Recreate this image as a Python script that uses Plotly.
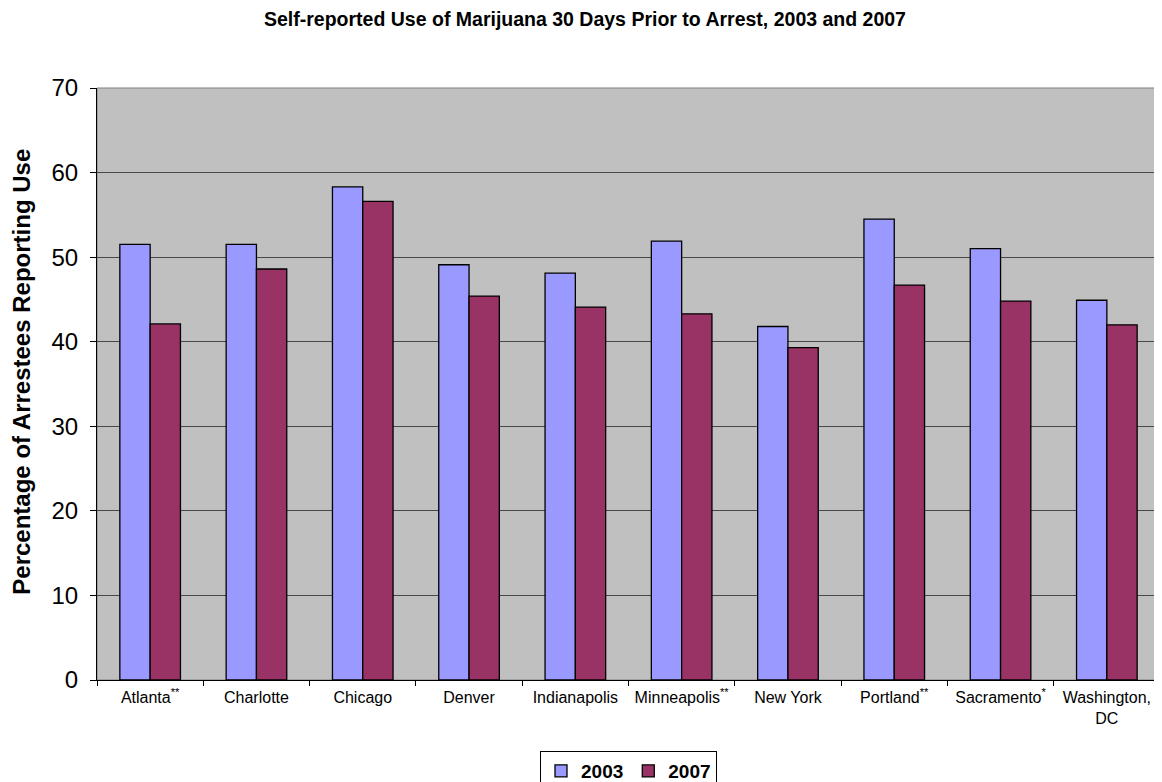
import plotly.graph_objects as go

# categories and values
cities = ["Atlanta<sup>**</sup>", "Charlotte", "Chicago", "Denver", "Indianapolis",
          "Minneapolis<sup>**</sup>", "New York", "Portland<sup>**</sup>",
          "Sacramento<sup>*</sup>", "Washington,<br>DC"]
use_2003 = [51.5, 51.5, 58.3, 49.1, 48.1, 51.9, 41.8, 54.5, 51.0, 44.9]
use_2007 = [42.1, 48.6, 56.6, 45.4, 44.1, 43.3, 39.3, 46.7, 44.8, 42.0]
y_ticks = [0, 10, 20, 30, 40, 50, 60, 70]

font = "Liberation Sans, Arial, sans-serif"

fig = go.Figure()
fig.add_trace(go.Bar(x=cities, y=use_2003, name="<b>2003</b>",
                     marker=dict(color="#9999FF", line=dict(color="black", width=1.3))))
fig.add_trace(go.Bar(x=cities, y=use_2007, name="<b>2007</b>",
                     marker=dict(color="#993366", line=dict(color="black", width=1.3))))

# page body has an 8px margin, so the figure is a little smaller than the window
fig.update_layout(
    width=1154, height=774,
    paper_bgcolor="white", plot_bgcolor="#C0C0C0",
    margin=dict(l=89, r=2, t=80, b=102, autoexpand=False),
    font=dict(family=font, color="black"),
    title=dict(text="<b>Self-reported Use of Marijuana 30 Days Prior to Arrest, 2003 and 2007</b>",
               x=0.5, xanchor="center", y=0.985, yanchor="middle",
               font=dict(size=19.5)),
    barmode="group", bargap=0.43, bargroupgap=0,
    legend=dict(orientation="h", x=0.5, xanchor="center", y=-0.12, yanchor="top",
                bordercolor="black", borderwidth=1, font=dict(size=19),
                itemwidth=30, traceorder="normal", tracegroupgap=0),
    showlegend=True,
)
fig.update_xaxes(
    automargin=False,
    showline=True, linecolor="black", linewidth=1, mirror=False,
    ticks="outside", tickson="boundaries", ticklen=5, tickcolor="black",
    tickfont=dict(size=16), ticklabelstandoff=3, showgrid=False,
)
fig.update_yaxes(
    automargin=False,
    range=[0, 70], tickvals=y_ticks, showline=True, linecolor="black", linewidth=1,
    ticks="outside", ticklen=6, tickcolor="black", tickfont=dict(size=24),
    ticklabelstandoff=7,
    showgrid=True, gridcolor="#484848", gridwidth=1, zeroline=False,
)
# y-axis title placed as an annotation
fig.add_annotation(text="<b>Percentage of Arrestees Reporting Use</b>", textangle=-90,
                   xref="paper", yref="paper", x=-0.071, y=0.52,
                   xanchor="center", yanchor="middle", showarrow=False,
                   font=dict(size=24))
# thin border round the plot area
fig.add_shape(type="rect", xref="paper", yref="paper", x0=0, x1=1, y0=0, y1=1,
              line=dict(color="#808080", width=1), layer="below")

fig.write_html("out.html")
